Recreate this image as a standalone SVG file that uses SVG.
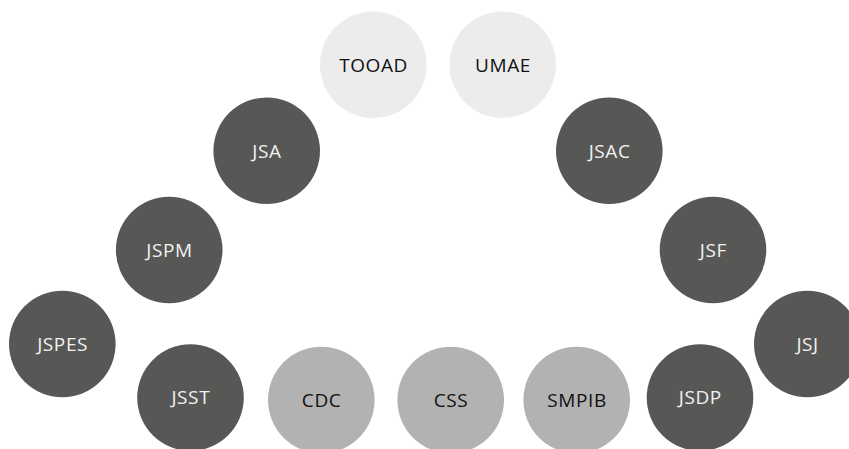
<svg xmlns="http://www.w3.org/2000/svg" width="849" height="449" viewBox="0 0 849 449">
<style>
circle{stroke:none}
.d{fill:#575756}
.l{fill:#ececec}
.m{fill:#b2b2b2}
text{font-family:"Open Sans","Noto Sans",sans-serif;font-size:19px;letter-spacing:0.6px;text-anchor:middle}
.td{fill:#f2f2f2}
.tl{fill:#111111}
</style>
<rect width="849" height="449" fill="#ffffff"/>
<g id="connectors"></g>
<g id="TOOAD"><circle class="l" cx="373.3" cy="64.7" r="53.3"/><text class="tl" x="373.6" y="71.5">TOOAD</text></g>
<g id="UMAE"><circle class="l" cx="502.7" cy="64.7" r="53.3"/><text class="tl" x="503" y="71.5">UMAE</text></g>
<g id="JSA"><circle class="d" cx="266.7" cy="150.8" r="53.3"/><text class="td" x="267" y="157.6">JSA</text></g>
<g id="JSAC"><circle class="d" cx="609.3" cy="150.8" r="53.3"/><text class="td" x="609.6" y="157.6">JSAC</text></g>
<g id="JSPM"><circle class="d" cx="169.2" cy="250" r="53.3"/><text class="td" x="169.5" y="256.8">JSPM</text></g>
<g id="JSF"><circle class="d" cx="713" cy="250" r="53.3"/><text class="td" x="713.3" y="256.8">JSF</text></g>
<g id="JSPES"><circle class="d" cx="62.3" cy="344" r="53.3"/><text class="td" x="62.6" y="350.8">JSPES</text></g>
<g id="JSJ"><circle class="d" cx="807.3" cy="344" r="53.3"/><text class="td" x="807.6" y="350.8">JSJ</text></g>
<g id="JSST"><circle class="d" cx="190.5" cy="397.6" r="53.3"/><text class="td" x="190.8" y="404.4">JSST</text></g>
<g id="CDC"><circle class="m" cx="321.3" cy="400" r="53.3"/><text class="tl" x="321.6" y="406.8">CDC</text></g>
<g id="CSS"><circle class="m" cx="450.7" cy="400" r="53.3"/><text class="tl" x="451" y="406.8">CSS</text></g>
<g id="SMPIB"><circle class="m" cx="576.7" cy="400" r="53.3"/><text class="tl" x="577" y="406.8">SMPIB</text></g>
<g id="JSDP"><circle class="d" cx="700" cy="397.6" r="53.3"/><text class="td" x="700.3" y="404.4">JSDP</text></g>
</svg>
